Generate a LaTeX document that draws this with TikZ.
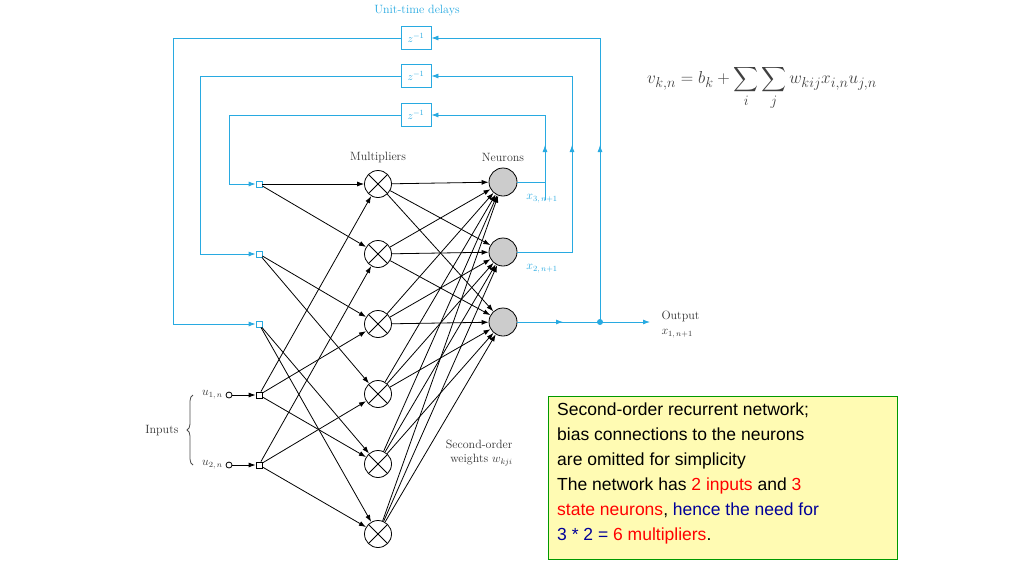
\documentclass[tikz,border=0pt]{standalone}
\usepackage{fontspec}
\usepackage{amsmath}
\newfontfamily\boxfont{Liberation Sans}
\usetikzlibrary{arrows.meta,decorations.pathreplacing}
\definecolor{cy}{RGB}{40,170,225}
\begin{document}
\begin{tikzpicture}[x=1pt,y=-1pt,
  mul/.style={circle,draw,thick,minimum size=27pt,inner sep=0pt,path picture={\draw (path picture bounding box.north west)--(path picture bounding box.south east) (path picture bounding box.north east)--(path picture bounding box.south west);}},
  neu/.style={circle,draw,thick,fill=gray!40,minimum size=28pt,inner sep=0pt},
  sq/.style={draw,thick,minimum size=6pt,inner sep=0pt},
  del/.style={draw=cy,thick,minimum width=30pt,minimum height=23pt,text=cy,font=\fontsize{11}{13}\selectfont},
  ar/.style={-{Latex[length=7pt,width=5pt]},thick},
  fb/.style={cy,thick},
  lab/.style={font=\fontsize{12}{14}\selectfont,text=black!80}]
\useasboundingbox (0,0) rectangle (1024,576);
% delays
\node[lab,text=cy] at (417,11) {Unit-time delays};
\node[del] (d1) at (416,38) {$z^{-1}$};
\node[del] (d2) at (416,76) {$z^{-1}$};
\node[del] (d3) at (416,115) {$z^{-1}$};
% states
\node[sq,draw=cy] (s3) at (259,184) {};
\node[sq,draw=cy] (s2) at (259,254) {};
\node[sq,draw=cy] (s1) at (259,324) {};
\node[sq] (u1) at (259,395) {};
\node[sq] (u2) at (259,465) {};
\node[circle,draw,thick,minimum size=6pt,inner sep=0pt] (c1) at (229,395) {};
\node[circle,draw,thick,minimum size=6pt,inner sep=0pt] (c2) at (229,465) {};
\draw[ar] (c1)--(u1); \draw[ar] (c2)--(u2);
\node[lab,anchor=east] at (226,395) {$u_{1,\,n}$};
\node[lab,anchor=east] at (226,465) {$u_{2,\,n}$};
\draw[thick,black!70,decorate,decoration={brace,amplitude=6pt}] (193,465)--(193,395);
\node[lab,anchor=east] at (182,431) {Inputs};
% multipliers
\foreach \i/\y in {1/184,2/254,3/324,4/394,5/464,6/534} \node[mul] (m\i) at (378,\y) {};
\node[lab] at (378,157) {Multipliers};
\node[neu] (n3) at (503,182) {};
\node[neu] (n2) at (503,252) {};
\node[neu] (n1) at (503,322) {};
\node[lab] at (503,157) {Neurons};
\node[lab,text=cy] at (542,199) {$x_{3,\,n+1}$};
\node[lab,text=cy] at (542,269) {$x_{2,\,n+1}$};
\node[lab,anchor=west] at (658,316) {Output};
\node[lab,anchor=west] at (658,334) {$x_{1,\,n+1}$};
\node[lab,align=right,anchor=east] at (516,453) {Second-order\\ weights $w_{kji}$};
% state/input to multipliers
\foreach \s/\a/\b in {s3/m1/m2,s2/m3/m4,s1/m5/m6} {\draw[ar] (\s)--(\a); \draw[ar] (\s)--(\b);}
\foreach \a in {m1,m3,m5} \draw[ar] (u1)--(\a);
\foreach \a in {m2,m4,m6} \draw[ar] (u2)--(\a);
\foreach \i in {1,...,6} \foreach \n in {n1,n2,n3} \draw[ar] (m\i)--(\n);
% feedback
\draw[fb] (n3.east)--(545,182)--(545,115);
\draw[fb,-{Latex[length=7pt,width=5pt]}] (545,115)--(d3.east);
\draw[fb,-{Latex[length=7pt,width=5pt]}] (545,200)--(545,145);
\draw[fb] (n2.east)--(572,252)--(572,76);
\draw[fb,-{Latex[length=7pt,width=5pt]}] (572,76)--(d2.east);
\draw[fb,-{Latex[length=7pt,width=5pt]}] (572,200)--(572,145);
\draw[fb] (n1.east)--(600,322)--(600,38);
\draw[fb,-{Latex[length=7pt,width=5pt]}] (600,38)--(d1.east);
\draw[fb,-{Latex[length=7pt,width=5pt]}] (600,250)--(600,145);
\draw[fb,-{Latex[length=7pt,width=5pt]}] (n1.east)--(563,322);
\draw[fb,-{Latex[length=7pt,width=5pt]}] (563,322)--(650,322);
\fill[cy] (600,322) circle (3pt);
\draw[fb,-{Latex[length=7pt,width=5pt]}] (d3.west)--(229,115)--(229,184)--(s3);
\draw[fb,-{Latex[length=7pt,width=5pt]}] (d2.west)--(200,76)--(200,254)--(s2);
\draw[fb,-{Latex[length=7pt,width=5pt]}] (d1.west)--(173,38)--(173,324)--(s1);
% equation
\node[text=black!75,font=\fontsize{19}{22}\selectfont] at (762,88) {$v_{k,n}=b_k+\displaystyle\sum_i\sum_j w_{kij}x_{i,n}u_{j,n}$};
% text box
\node[draw=green!60!black,fill=yellow!30,thick,minimum width=349pt,minimum height=163pt,anchor=north west,inner sep=0pt] (tb) at (548,396) {};
\node[anchor=north west,align=left,font=\boxfont\fontsize{17.5}{25}\selectfont,inner sep=0pt] (tt) at (557,403) {Second-order recurrent network;\\bias connections to the neurons\\are omitted for simplicity\\The network has \textcolor{red}{2 inputs} and \textcolor{red}{3}\\\textcolor{red}{state neurons}, \textcolor{blue!60!black}{hence the need for}\\\textcolor{blue!60!black}{3 * 2 =} \textcolor{red}{6 multipliers}.};
\end{tikzpicture}
\end{document}
